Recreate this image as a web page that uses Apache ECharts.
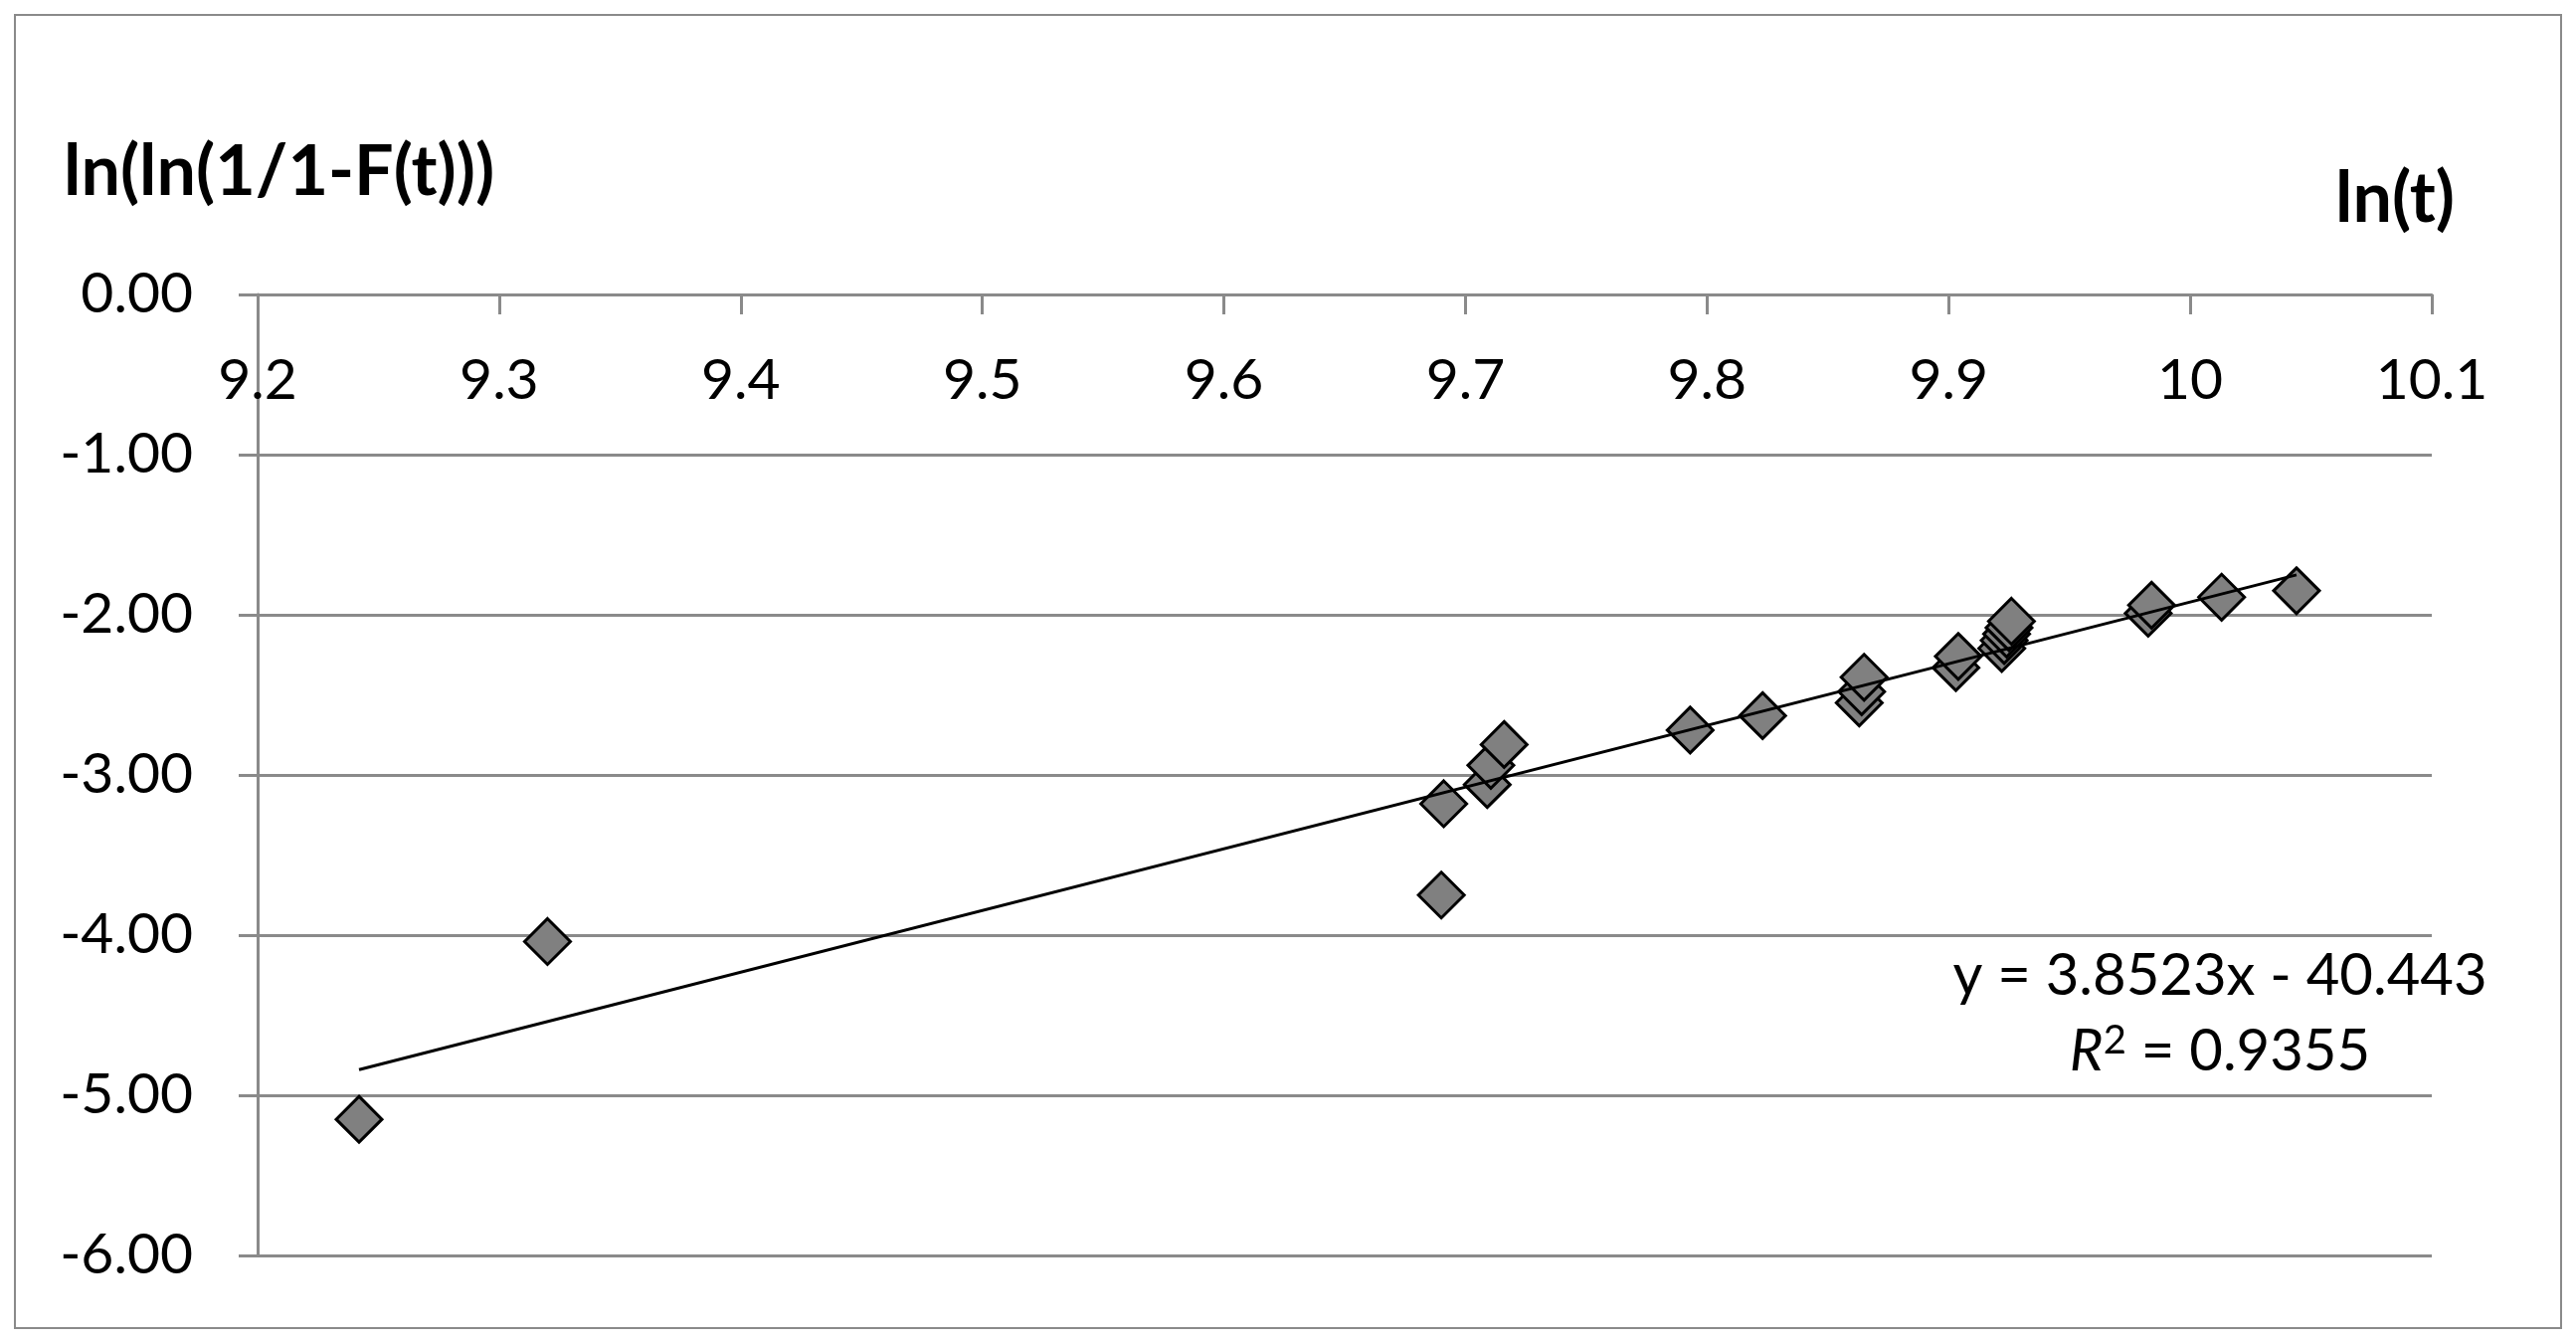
<!DOCTYPE html>
<html><head><meta charset="utf-8">
<script src="https://cdn.jsdelivr.net/npm/echarts/dist/echarts.min.js"></script>
<style>html,body{margin:0;padding:0;background:#fff}#c{width:2590px;height:1349px}</style>
</head><body><div id="c"></div>
<script>
// ln(t) values (x)
const lnT = [9.242, 9.320, 9.690, 9.691, 9.709, 9.7105, 9.716, 9.793, 9.823,
  9.863, 9.864, 9.865, 9.903, 9.904, 9.922, 9.923, 9.924, 9.925, 9.926,
  9.9826, 9.984, 10.013, 10.044];
// ln(ln(1/(1-F(t)))) values (y)
const lnLn = [-5.15, -4.04, -3.75, -3.18, -3.06, -2.94, -2.81, -2.72, -2.63,
  -2.55, -2.48, -2.39, -2.33, -2.26, -2.21, -2.16, -2.12, -2.08, -2.04,
  -1.99, -1.94, -1.89, -1.85];
// trendline coefficients shown on the chart
const slope = 3.8523;
const intercept = -40.443;
const rSquared = 0.9355;
const yAxisTitle = 'ln(ln(1/1-F(t)))';
const xAxisTitle = 'ln(t)';

const points = lnT.map((x, i) => [x, lnLn[i]]);
const xMin = Math.min(...lnT), xMax = Math.max(...lnT);
const trend = [[xMin, slope * xMin + intercept], [xMax, slope * xMax + intercept]];

const FONT = 'Lato, "Open Sans", sans-serif';
const GRAY = '#8a8a8a';

const chart = echarts.init(document.getElementById('c'), null, {renderer: 'canvas'});
chart.setOption({
  animation: false,
  backgroundColor: '#fff',
  grid: {left: 259, right: 145, top: 296, bottom: 87, containLabel: false, outerBoundsMode: 'none'},
  xAxis: {
    type: 'value', position: 'top', min: 9.2, max: 10.1, interval: 0.1,
    axisLine: {show: true, onZero: false, lineStyle: {color: GRAY, width: 3}},
    axisTick: {show: true, inside: true, length: 20, lineStyle: {color: GRAY, width: 3}},
    splitLine: {show: false},
    axisLabel: {inside: true, margin: 58, fontSize: 57, color: '#000', fontFamily: FONT,
      formatter: v => String(Math.round(v * 10) / 10)}
  },
  yAxis: {
    type: 'value', min: -6, max: 0, interval: 1,
    axisLine: {show: true, onZero: false, lineStyle: {color: GRAY, width: 3}},
    axisTick: {show: true, length: 19, lineStyle: {color: GRAY, width: 3}},
    splitLine: {show: true, lineStyle: {color: GRAY, width: 3}},
    axisLabel: {margin: 65, fontSize: 57, color: '#000', fontFamily: FONT,
      formatter: v => v.toFixed(2)}
  },
  series: [
    {type: 'scatter', data: points, symbol: 'diamond', symbolSize: 46,
      itemStyle: {color: '#808080', borderColor: '#000', borderWidth: 3, opacity: 1}, z: 3},
    {type: 'line', data: trend, symbol: 'none', lineStyle: {color: '#000', width: 3}, z: 4}
  ],
  graphic: [
    {type: 'rect', shape: {x: 15, y: 15, width: 2560, height: 1320}, z: -1,
      style: {fill: 'none', stroke: GRAY, lineWidth: 2}},
    {type: 'text', x: 64, y: 173, style: {text: yAxisTitle, font: 'bold 70px ' + FONT,
      fill: '#000', textAlign: 'left', textVerticalAlign: 'middle'}},
    {type: 'text', x: 2468, y: 200, style: {text: xAxisTitle, font: 'bold 70px ' + FONT,
      fill: '#000', textAlign: 'right', textVerticalAlign: 'middle'}},
    {type: 'text', x: 2232, y: 981, style: {
      text: 'y = ' + slope + 'x - ' + Math.abs(intercept),
      font: '58px ' + FONT, fill: '#000', textAlign: 'center', textVerticalAlign: 'middle'}},
    {type: 'text', x: 2232, y: 1057, style: {
      text: '{i|R}{s|2}{n| = ' + rSquared + '}',
      textAlign: 'center', textVerticalAlign: 'middle', fill: '#000',
      rich: {
        i: {fontFamily: FONT, fontSize: 58, fontStyle: 'italic', fill: '#000'},
        s: {fontFamily: FONT, fontSize: 40, fill: '#000', padding: [0, 0, 22, 0]},
        n: {fontFamily: FONT, fontSize: 58, fill: '#000'}
      }}}
  ]
});
</script></body></html>
